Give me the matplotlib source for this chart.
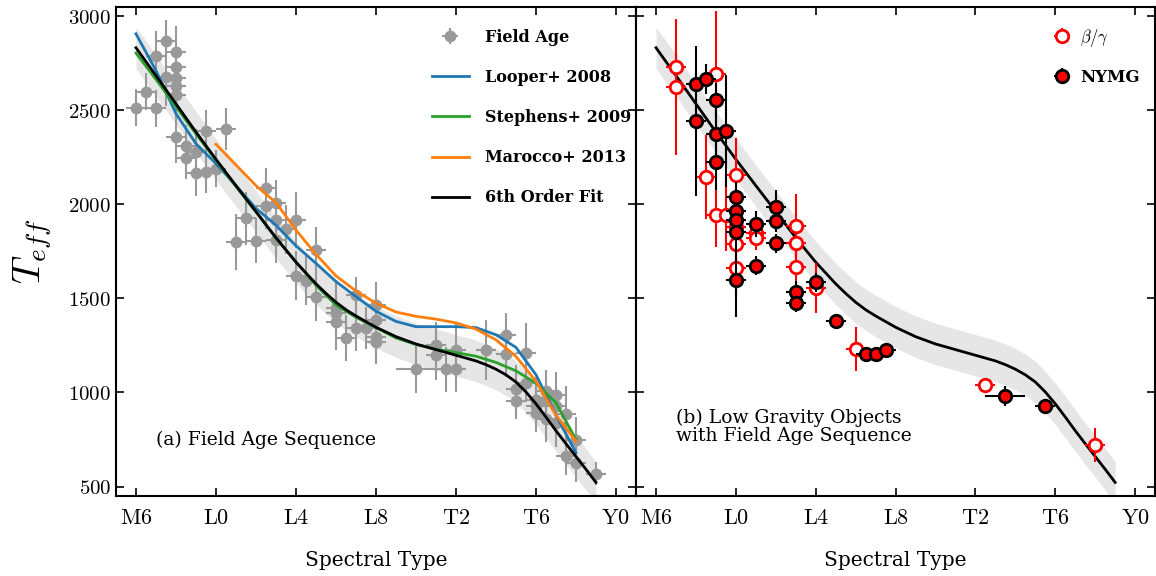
import matplotlib
matplotlib.use("Agg")
import matplotlib.pyplot as plt
import numpy as np

plt.rcParams["font.family"] = "DejaVu Serif"
plt.rcParams["mathtext.fontset"] = "cm"

# spectral type index: M0=0, L0=10, T0=20, Y0=30
tick_pos = [6, 10, 14, 18, 22, 26, 30]
tick_labels = ["M6", "L0", "L4", "L8", "T2", "T6", "Y0"]

# field age sample
field_spt = [6.0, 6.5, 7.0, 7.0, 7.5, 7.5, 8.0, 8.0, 8.0, 8.0, 8.0, 8.0,
             8.5, 8.5, 9.0, 9.0, 9.5, 9.5, 10.0, 10.5,
             11.0, 11.5, 12.0, 12.5, 12.5, 13.0, 13.0, 13.0, 13.5, 14.0,
             14.0, 14.5, 15.0, 15.0,
             16.0, 16.0, 16.0, 16.5, 17.0, 17.0, 17.5, 18.0, 18.0, 18.0, 18.0,
             20.0, 21.0, 21.0, 21.5, 22.0, 22.0, 23.5, 24.5, 24.5, 25.5, 25.5,
             25.0, 25.0, 26.0, 26.0, 26.0, 26.5, 26.5, 26.5, 27.0, 27.0, 27.0,
             27.5, 27.5, 28.0, 28.0, 29.0]
field_teff = [2515, 2600, 2790, 2510, 2870, 2675, 2810, 2730, 2670, 2630, 2580, 2360,
              2310, 2245, 2280, 2165, 2390, 2170, 2190, 2400,
              1800, 1926, 1807, 2085, 1991, 2009, 1917, 1811, 1867, 1917,
              1621, 1595, 1758, 1510,
              1450, 1420, 1375, 1290, 1516, 1343, 1343, 1466, 1387, 1296, 1271,
              1125, 1255, 1198, 1123, 1226, 1123, 1226, 1303, 1203, 1210, 1050,
              1016, 957, 960, 927, 892, 1010, 960, 857, 989, 927, 840,
              883, 662, 625, 750, 568]
field_xerr = [0.5, 0.5, 0.5, 0.5, 0.5, 0.5, 0.5, 0.5, 0.5, 0.5, 0.5, 0.5,
              0.5, 0.5, 0.5, 0.5, 0.5, 0.5, 0.5, 0.5,
              0.5, 0.5, 0.5, 0.5, 0.5, 0.5, 0.5, 0.5, 0.5, 0.5,
              0.5, 0.5, 0.5, 0.5,
              0.5, 0.5, 0.5, 0.5, 0.5, 0.5, 0.5, 0.5, 0.5, 0.5, 0.5,
              1.0, 0.5, 0.5, 0.5, 0.5, 0.5, 0.5, 0.5, 0.5, 0.5, 0.5,
              0.5, 0.5, 0.5, 0.5, 0.5, 0.5, 0.5, 0.5, 0.5, 0.5, 0.5,
              0.5, 0.5, 0.5, 0.5, 0.5]
field_yerr = [100, 100, 130, 100, 110, 150, 140, 110, 100, 100, 100, 140,
              110, 110, 120, 120, 110, 110, 100, 110,
              150, 140, 120, 110, 120, 120, 110, 120, 130, 150,
              130, 130, 120, 130,
              150, 120, 150, 120, 100, 120, 110, 120, 110, 110, 120,
              130, 120, 130, 120, 150, 120, 160, 120, 120, 160, 100,
              130, 100, 120, 100, 100, 110, 100, 120, 120, 110, 130,
              150, 100, 100, 120, 60]

# published relations
looper_spt = [6, 7, 8, 9, 10, 11, 12, 13, 14, 15, 16, 17, 18, 19, 20, 21, 22,
              23, 24, 25, 26, 27, 28]
looper_teff = [2907, 2712, 2483, 2323, 2217, 2100, 1979, 1890, 1780, 1687, 1590,
               1510, 1432, 1378, 1350, 1350, 1350, 1345, 1307, 1240, 1095, 880, 680]
stephens_spt = [6, 7, 8, 9, 10, 11, 12, 13, 14, 15, 16, 17, 18, 19, 20, 21, 22,
                23, 24, 25, 26, 27, 28]
stephens_teff = [2805, 2665, 2520, 2375, 2235, 2095, 1960, 1820, 1695, 1570, 1465,
                 1400, 1345, 1290, 1255, 1230, 1212, 1193, 1160, 1115, 1050, 945, 750]
marocco_spt = [10, 11, 12, 13, 14, 15, 16, 17, 18, 19, 20, 21, 22, 23, 24, 25,
               26, 27, 28]
marocco_teff = [2320, 2210, 2100, 2010, 1864, 1735, 1620, 1540, 1475, 1428, 1405,
                1390, 1370, 1337, 1280, 1192, 1060, 880, 741]

# 6th order fit and its rms
fit_spt = [6, 7, 8, 9, 10, 11, 12, 13, 14, 15, 15.5, 16, 16.5, 17, 18, 19, 20,
           21, 22, 23, 23.5, 24, 24.5, 25, 25.5, 26, 26.5, 27, 27.5, 28, 28.5, 29]
fit_teff = [2833, 2685, 2535, 2385, 2240, 2100, 1962, 1823, 1693, 1578, 1527,
            1480, 1440, 1407, 1347, 1297, 1258, 1228, 1198, 1168, 1148, 1124,
            1094, 1056, 1003, 940, 870, 797, 728, 660, 592, 522]
fit_rms = 110

# low gravity objects
bg_spt = [7.0, 7.0, 8.5, 9.0, 9.0, 9.5, 10.0, 10.0, 10.0, 10.0, 11.0, 11.0,
          13.0, 13.0, 13.0, 14.0, 16.0, 22.5, 28.0]
bg_teff = [2730, 2625, 2146, 2695, 1943, 1943, 2155, 1880, 1788, 1664, 1850, 1820,
           1885, 1795, 1665, 1555, 1231, 1042, 719]
bg_yerr = [80, 360, 225, 335, 170, 190, 200, 100, 120, 150, 60, 60,
           170, 100, 100, 135, 115, 30, 90]
bg_xerr = [0.5] * len(bg_spt)

nymg_spt = [8.0, 8.0, 8.5, 9.0, 9.0, 9.0, 9.5, 10.0, 10.0, 10.0, 10.0, 10.0,
            11.0, 11.0, 12.0, 12.0, 12.0, 13.0, 13.0, 14.0, 15.0, 16.5, 17.0,
            17.5, 23.5, 25.5]
nymg_teff = [2638, 2443, 2668, 2553, 2373, 2226, 2390, 2037, 1965, 1917, 1852, 1599,
             1896, 1675, 1984, 1913, 1793, 1533, 1476, 1585, 1378, 1206, 1206,
             1227, 980, 927]
nymg_yerr = [60, 400, 80, 90, 150, 150, 300, 80, 60, 60, 60, 200,
             70, 50, 90, 60, 50, 60, 50, 50, 30, 30, 30, 30, 53, 30]
nymg_xerr = [0.5] * 23 + [0.5, 1.0, 0.5]

fig = plt.figure(figsize=(11.56, 5.76), dpi=100)
ax1 = fig.add_axes([0.1003, 0.139, 0.4498, 0.849])
ax2 = fig.add_axes([0.5502, 0.139, 0.449, 0.849])

fit_lo = np.array(fit_teff) - fit_rms
fit_hi = np.array(fit_teff) + fit_rms

for ax in (ax1, ax2):
    ax.fill_between(fit_spt, fit_lo, fit_hi, color="#e6e6e6", lw=0, zorder=1)
    ax.set_xlim(5, 31)
    ax.set_ylim(450, 3050)
    ax.set_xticks(tick_pos)
    ax.set_xticklabels([r"$\mathrm{%s}$" % t for t in tick_labels], fontsize=16)
    ax.set_yticks([500, 1000, 1500, 2000, 2500, 3000])
    ax.tick_params(direction="in", top=True, right=True, length=6, width=1.2)
    ax.tick_params(axis="x", pad=8)
    for s in ax.spines.values():
        s.set_linewidth(1.5)
    ax.set_xlabel("Spectral Type", fontsize=14.5, labelpad=16)

ax1.errorbar(field_spt, field_teff, xerr=field_xerr, yerr=field_yerr, fmt="o",
             color="#999999", ms=7.5, elinewidth=1.5, capsize=0, zorder=2,
             label="Field Age")
ax1.plot(looper_spt, looper_teff, color="#1f77b4", lw=2, zorder=3, label="Looper+ 2008")
ax1.plot(stephens_spt, stephens_teff, color="#2ca02c", lw=2, zorder=3, label="Stephens+ 2009")
ax1.plot(marocco_spt, marocco_teff, color="#ff7f0e", lw=2, zorder=3, label="Marocco+ 2013")
ax1.plot(fit_spt, fit_teff, color="black", lw=2, zorder=4, label="6th Order Fit")
ax1.set_yticklabels([r"$%d$" % v for v in [500, 1000, 1500, 2000, 2500, 3000]], fontsize=15)
ax1.set_ylabel(r"$T_{eff}$", fontsize=28, labelpad=10)

handles, labels = ax1.get_legend_handles_labels()
order = [labels.index("Field Age")] + [i for i, l in enumerate(labels) if l != "Field Age"]
ax1.legend([handles[i] for i in order], [labels[i] for i in order],
           loc="upper left", bbox_to_anchor=(0.58, 0.985), frameon=False,
           prop={"weight": "bold", "size": 11.5}, handlelength=2.3,
           labelspacing=1.45, handletextpad=1.0)
ax1.text(7.0, 750, "(a) Field Age Sequence", fontsize=13.5, va="center")

ax2.plot(fit_spt, fit_teff, color="black", lw=2, zorder=2)
ax2.errorbar(bg_spt, bg_teff, xerr=bg_xerr, yerr=bg_yerr, fmt="o", color="red",
             mfc="white", mec="red", mew=2, ms=9, elinewidth=1.5, capsize=0,
             zorder=3, label=r"$\beta/\gamma$")
ax2.errorbar(nymg_spt, nymg_teff, xerr=nymg_xerr, yerr=nymg_yerr, fmt="o",
             color="black", mfc="red", mec="black", mew=2, ms=9, elinewidth=1.5,
             capsize=0, zorder=4, label="NYMG")
ax2.set_yticklabels([])
ax2.legend(loc="upper right", bbox_to_anchor=(1.0, 0.99), frameon=False,
           prop={"weight": "bold", "size": 12}, handlelength=1.2,
           labelspacing=1.2, handletextpad=0.5)
ax2.text(7.0, 915, "(b) Low Gravity Objects\nwith Field Age Sequence",
         fontsize=13.5, va="top", linespacing=1.05)

fig.savefig("out.png", dpi=100)
